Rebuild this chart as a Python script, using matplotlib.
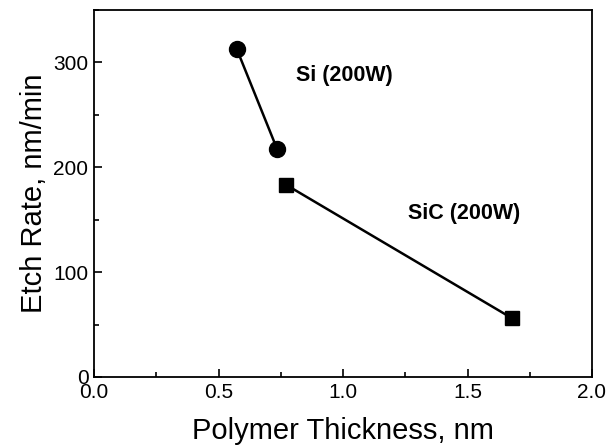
import matplotlib
matplotlib.use("Agg")
import matplotlib.pyplot as plt
from matplotlib.ticker import MultipleLocator

si_x = [0.573, 0.736]
si_y = [313, 217]
sic_x = [0.770, 1.679]
sic_y = [183.5, 56]

plt.rcParams['font.family'] = ['Liberation Sans', 'DejaVu Sans']

fig = plt.figure(figsize=(6.10, 4.47), dpi=100)
ax = fig.add_axes([94/610, 1-377/447, (592-94)/610, (377-10)/447])

ax.plot(si_x, si_y, '-', color='black', lw=1.8, marker='o', ms=11.5)
ax.plot(sic_x, sic_y, '-', color='black', lw=1.8, marker='s', ms=10)

ax.text(0.811, 288, 'Si (200W)', fontsize=15.5, fontweight='bold', va='center', ha='left')
ax.text(1.262, 156, 'SiC (200W)', fontsize=15.5, fontweight='bold', va='center', ha='left')

ax.set_xlim(0, 2.0)
ax.set_ylim(0, 350)
ax.xaxis.set_minor_locator(MultipleLocator(0.25))
ax.yaxis.set_major_locator(MultipleLocator(100))
ax.yaxis.set_minor_locator(MultipleLocator(50))
ax.set_xticks([0, 0.5, 1.0, 1.5, 2.0])
ax.set_xticklabels(['0.0', '0.5', '1.0', '1.5', '2.0'])
ax.tick_params(which='both', direction='in', top=False, right=False, labelsize=15, width=1.2)
ax.tick_params(which='major', length=6)
ax.tick_params(which='minor', length=3.5)
ax.tick_params(axis='x', pad=4)
ax.tick_params(axis='y', pad=4)
for s in ax.spines.values():
    s.set_linewidth(1.3)

ax.set_xlabel('Polymer Thickness, nm', fontsize=21, labelpad=11)
ax.set_ylabel('Etch Rate, nm/min', fontsize=21, labelpad=4)

fig.savefig('out.png', dpi=100)
